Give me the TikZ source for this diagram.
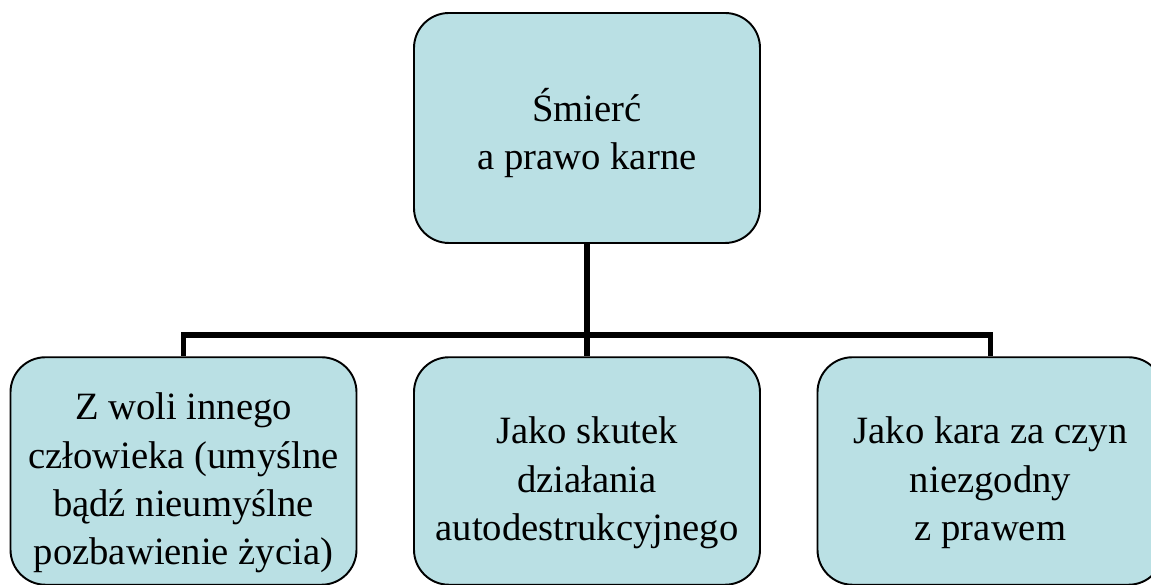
\documentclass[tikz,border=0pt]{standalone}
\usepackage{fontspec}
\setmainfont{Liberation Serif}
\usepackage{tikz}
\usetikzlibrary{positioning,calc}

\definecolor{boxfill}{RGB}{186,224,228}

\begin{document}
\begin{tikzpicture}[
    font=\fontsize{22}{27.5}\selectfont,
    box/.style={
        draw=black,
        line width=1.1pt,
        rounded corners=0.7cm,
        minimum width=6.92cm,
        minimum height=4.55cm,
        fill=boxfill
    },
    txt/.style={align=center, yshift=-0.24cm},
    link/.style={line width=3.4pt}
]

% Stable crop.
\path[use as bounding box] (0,0) rectangle (23.02,11.70);

% --------------------------------------------------
% Root
% --------------------------------------------------
\node[box, minimum height=4.60cm,
    label={[txt, yshift=0.14cm]center:{Śmierć\\a prawo karne}}] (root) at (11.74,9.14) {};

% --------------------------------------------------
% Three cases (text sits a bit low in the boxes)
% --------------------------------------------------
\node[box, label={[txt]center:{Z woli innego\\człowieka (umyślne\\bądź nieumyślne\\pozbawienie życia)}}]
    (other) at (3.67,2.28) {};
\node[box, label={[txt]center:{Jako skutek\\działania\\autodestrukcyjnego}}]
    (self) at (11.74,2.28) {};
\node[box, label={[txt]center:{Jako kara za czyn\\niezgodny\\z prawem}}]
    (penalty) at (19.81,2.28) {};

% Branching point on the bar.
\coordinate (bar) at (11.74,5.00);

% --------------------------------------------------
% Tree links
% --------------------------------------------------
\draw[link] (root.south) -- (bar);
\draw[link] (bar) -- (self.north);
\draw[link] (bar) -| (other.north);
\draw[link] (bar) -| (penalty.north);

\end{tikzpicture}
\end{document}
